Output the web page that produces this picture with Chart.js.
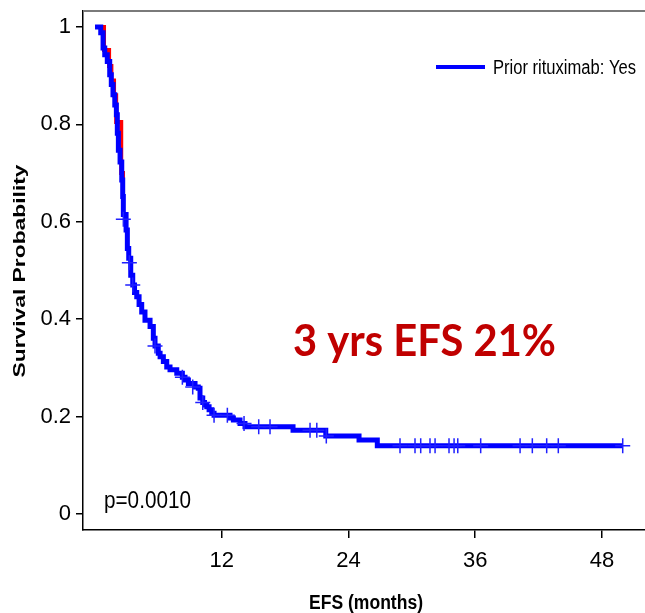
<!DOCTYPE html>
<html>
<head>
<meta charset="utf-8">
<script src="https://cdn.jsdelivr.net/npm/chart.js@4.4.1/dist/chart.umd.min.js"></script>
<style>
  html, body { margin: 0; padding: 0; background: #fff; }
  #wrap { width: 645px; height: 613px; }
</style>
</head>
<body>
<div id="wrap"><canvas id="km" width="645" height="613"></canvas></div>
<script>
// Kaplan-Meier, prior rituximab: Yes (blue) and the other group peeking out (red)
const blueMonths = [0, 0.54, 0.76, 0.92, 1.16, 1.39, 1.54, 1.70, 1.87, 2.02, 2.11, 2.21, 2.37, 2.53, 2.62, 2.68, 2.94, 3.06, 3.19, 3.38, 3.57, 3.74, 3.95, 4.17, 4.42, 4.73, 5.21, 5.52, 5.68, 5.99, 6.16, 6.47, 6.79, 7.10, 7.74, 8.27, 8.52, 8.84, 9.47, 9.78, 9.94, 10.2, 10.37, 10.58, 10.8, 11.05, 11.27, 12.78, 13.1, 13.73, 14.2, 18.75, 21.85, 25.0, 26.73, 49.97]
const blueSurv   = [1, 0.988, 0.957, 0.943, 0.929, 0.902, 0.882, 0.861, 0.84, 0.82, 0.782, 0.747, 0.723, 0.686, 0.652, 0.615, 0.583, 0.545, 0.525, 0.49, 0.47, 0.455, 0.446, 0.43, 0.415, 0.398, 0.385, 0.361, 0.345, 0.33, 0.323, 0.313, 0.302, 0.296, 0.289, 0.281, 0.275, 0.268, 0.261, 0.258, 0.238, 0.229, 0.224, 0.22, 0.214, 0.207, 0.203, 0.197, 0.193, 0.186, 0.179, 0.172, 0.16, 0.152, 0.14, 0.14]

const redMonths = [0, 0.85, 1.33, 1.55, 1.8, 2.0, 2.48, 2.65]
const redSurv   = [1, 0.953, 0.92, 0.89, 0.86, 0.805, 0.70, 0.66]

const censorMonths = [2.68, 3.25, 3.57, 5.68, 8.27, 9.25, 10.2, 11.27, 12.53, 14.11, 15.5, 16.57, 20.36, 21.0, 21.9, 28.88, 30.3, 30.84, 31.72, 32.2, 33.52, 34.0, 34.35, 36.52, 40.25, 41.41, 42.77, 43.87, 49.97]
const censorSurv   = [0.605, 0.516, 0.47, 0.345, 0.281, 0.261, 0.229, 0.203, 0.203, 0.186, 0.179, 0.179, 0.172, 0.172, 0.16, 0.14, 0.14, 0.14, 0.14, 0.14, 0.14, 0.14, 0.14, 0.14, 0.14, 0.14, 0.14, 0.14, 0.14]

const xTicks = [12, 24, 36, 48]
const yTicks = [0, 0.2, 0.4, 0.6, 0.8, 1]

const NARROW = "'Liberation Sans Narrow', 'Arial Narrow', 'Liberation Sans', sans-serif"

const pts = (xs, ys) => xs.map((x, i) => ({ x: x, y: ys[i] }))

// draws text squeezed/stretched to a given width
function fitText(ctx, text, x, y, width, align) {
  const w = ctx.measureText(text).width
  const k = width / w
  ctx.save()
  ctx.translate(x, y)
  ctx.scale(k, 1)
  ctx.textAlign = align || 'left'
  ctx.fillText(text, 0, 0)
  ctx.restore()
}

const extras = {
  id: 'extras',
  afterDraw(chart) {
    const ctx = chart.ctx
    const a = chart.chartArea
    ctx.save()
    // top frame line
    ctx.strokeStyle = '#7a7a7a'
    ctx.lineWidth = 2
    ctx.beginPath()
    ctx.moveTo(a.left, a.top)
    ctx.lineTo(a.right, a.top)
    ctx.stroke()

    // legend
    ctx.strokeStyle = '#0000ff'
    ctx.lineWidth = 4
    ctx.beginPath()
    ctx.moveTo(436, 67)
    ctx.lineTo(485, 67)
    ctx.stroke()
    ctx.fillStyle = '#000'
    ctx.textBaseline = 'alphabetic'
    ctx.font = "20px " + NARROW
    fitText(ctx, 'Prior rituximab: Yes', 493, 74, 143)

    // p value
    ctx.font = "24px " + NARROW
    fitText(ctx, 'p=0.0010', 104, 508, 87)

    // big annotation
    ctx.fillStyle = '#c00000'
    ctx.font = "bold 44px Lato, 'Open Sans', sans-serif"
    fitText(ctx, '3 yrs EFS 21%', 293, 356, 263)

    // axis titles
    ctx.fillStyle = '#000'
    ctx.font = "bold 20px " + NARROW
    fitText(ctx, 'EFS (months)', 366, 609, 114, 'center')

    ctx.save()
    ctx.translate(25, 271)
    ctx.rotate(-Math.PI / 2)
    ctx.font = "bold 16px 'Liberation Sans', Arial, sans-serif"
    fitText(ctx, 'Survival Probability', 0, 0, 213, 'center')
    ctx.restore()
    ctx.restore()
  }
}

new Chart(document.getElementById('km'), {
  type: 'line',
  data: {
    datasets: [
      {
        label: 'censored',
        data: pts(censorMonths, censorSurv),
        showLine: false,
        pointStyle: 'cross',
        pointRadius: 7.5,
        pointBorderWidth: 1.5,
        pointBorderColor: '#2020ff',
        pointBackgroundColor: '#2020ff'
      },
      {
        label: 'Prior rituximab: Yes',
        data: pts(blueMonths, blueSurv),
        stepped: true,
        borderColor: '#0000ff',
        borderWidth: 5,
        pointRadius: 0,
        fill: false
      },
      {
        label: 'Prior rituximab: No',
        data: pts(redMonths, redSurv),
        stepped: true,
        borderColor: '#ff0000',
        borderWidth: 4,
        pointRadius: 0,
        fill: false
      }
    ]
  },
  options: {
    responsive: false,
    animation: false,
    layout: { autoPadding: false, padding: { top: 11, right: 0, left: 0, bottom: 0 } },
    plugins: {
      legend: { display: false },
      tooltip: { enabled: false }
    },
    scales: {
      x: {
        type: 'linear',
        min: -1.14,
        max: 52.08,
        afterBuildTicks: (s) => { s.ticks = xTicks.map(v => ({ value: v })) },
        afterFit: (s) => { s.height = 83; s.paddingLeft = 0; s.paddingRight = 0 },
        grid: { drawOnChartArea: false, drawTicks: true, tickLength: 8, color: '#000', lineWidth: 1.5 },
        border: { display: true, color: '#000', width: 1.5 },
        ticks: {
          color: '#000',
          padding: 10,
          maxRotation: 0,
          font: { family: NARROW, size: 22 },
          callback: (v) => String(v)
        }
      },
      y: {
        min: -0.0329,
        max: 1.0329,
        afterBuildTicks: (s) => { s.ticks = yTicks.map(v => ({ value: v })) },
        afterFit: (s) => { s.width = 83; s.paddingTop = 0; s.paddingBottom = 0 },
        grid: { drawOnChartArea: false, drawTicks: true, tickLength: 7, color: '#000', lineWidth: 1.5 },
        border: { display: true, color: '#000', width: 1.5 },
        ticks: {
          color: '#000',
          padding: 5,
          font: { family: NARROW, size: 22 },
          callback: (v) => (v === 0 || v === 1) ? String(v) : v.toFixed(1)
        }
      }
    }
  },
  plugins: [extras]
})
</script>
</body>
</html>
